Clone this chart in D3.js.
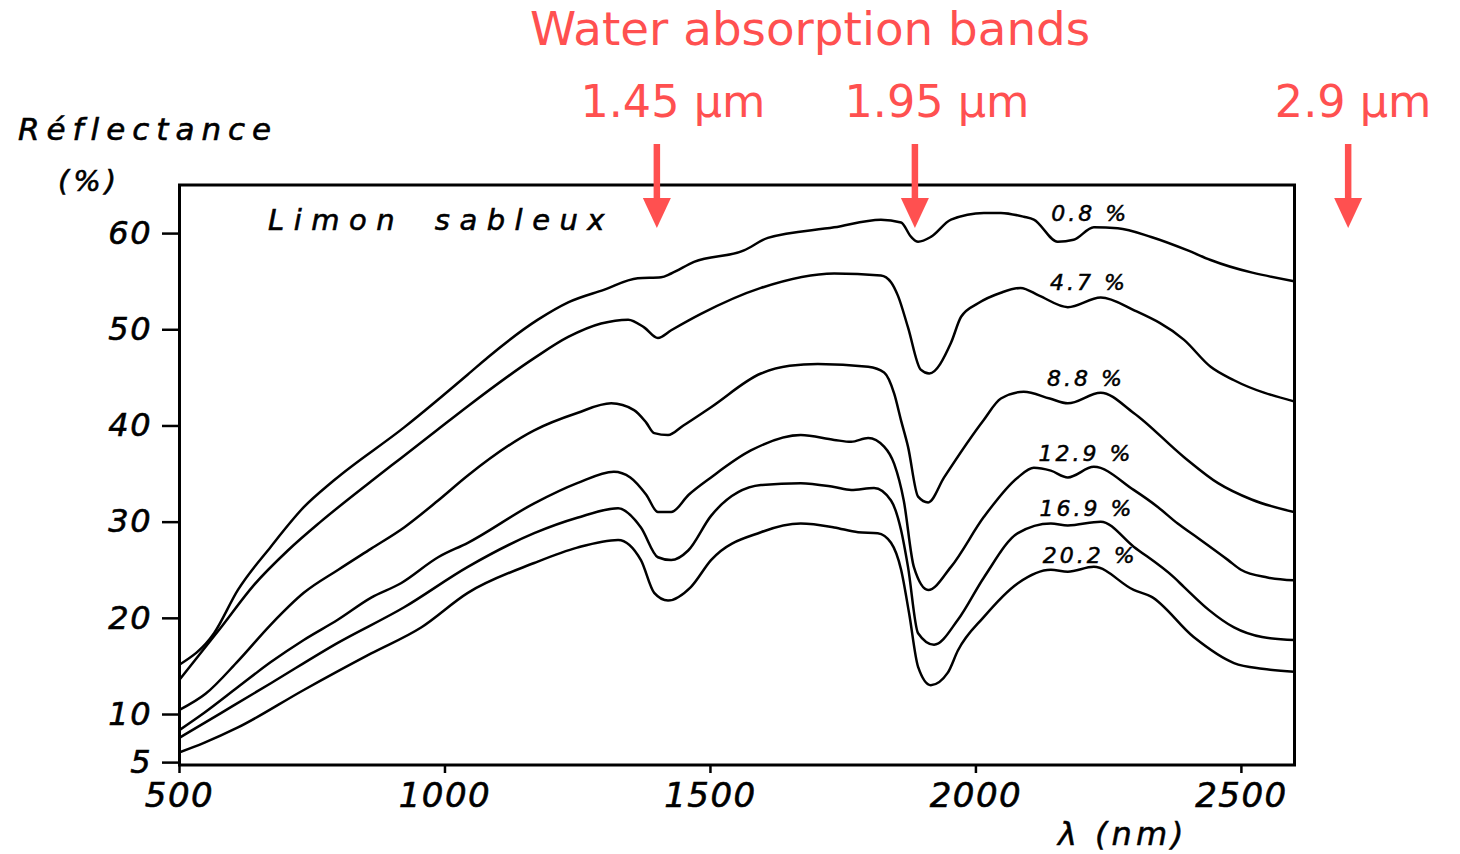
<!DOCTYPE html>
<html><head><meta charset="utf-8">
<script src="https://cdn.jsdelivr.net/npm/d3@7"></script>
<style>body{margin:0;background:#fff;} svg{display:block;}</style>
</head><body>
<svg id="c" width="1460" height="854"></svg>
<script>
// ---- data (wavelength nm, reflectance %) ----
const moistureLabels = ["0.8 %", "4.7 %", "8.8 %", "12.9 %", "16.9 %", "20.2 %"];
const s08 = [[500,15.1],[566,18.4],[611,22.9],[673,27.4],[735,31.5],[792,34.3],[924,39.8],[1044,45.3],[1082,47.1],[1176,51.0],[1233,52.8],[1300,54.1],[1364,55.3],[1408,55.4],[1427,55.8],[1470,57.0],[1564,58.2],[1609,59.5],[1734,60.6],[1822,61.4],[1860,61.1],[1879,59.6],[1892,59.1],[1916,59.6],[1954,61.4],[2016,62.1],[2048,62.1],[2091,61.7],[2110,61.4],[2155,59.1],[2185,59.3],[2223,60.6],[2268,60.5],[2331,59.6],[2400,58.2],[2443,57.2],[2600,55.0]];
const s47 = [[500,13.5],[579,19.0],[641,23.4],[705,27.0],[767,30.0],[862,34.2],[918,36.6],[988,39.6],[1044,42.0],[1169,47.0],[1233,49.2],[1295,50.6],[1346,51.0],[1376,50.2],[1402,49.1],[1427,49.9],[1483,51.6],[1596,54.3],[1734,55.8],[1822,55.6],[1841,54.9],[1854,53.5],[1873,50.2],[1897,45.8],[1913,45.4],[1954,48.6],[1973,51.3],[2005,52.7],[2048,53.8],[2085,54.3],[2120,53.5],[2174,52.3],[2236,53.3],[2298,52.0],[2393,48.9],[2443,46.1],[2487,44.7],[2600,42.5]];
const s88 = [[500,10.4],[550,12.1],[611,15.5],[673,19.3],[735,22.6],[800,25.0],[862,27.2],[924,29.4],[988,32.2],[1044,34.8],[1169,39.5],[1250,41.3],[1314,42.3],[1357,41.6],[1380,40.3],[1395,39.2],[1421,39.0],[1450,40.0],[1502,41.9],[1596,45.4],[1650,46.2],[1703,46.4],[1798,46.1],[1828,45.5],[1847,43.3],[1860,40.5],[1873,37.8],[1892,32.6],[1911,32.0],[1941,34.6],[2016,40.6],[2048,42.8],[2091,43.5],[2140,42.8],[2174,42.3],[2236,43.4],[2298,41.3],[2393,36.7],[2457,34.0],[2520,32.3],[2600,31.0]];
const s129 = [[500,8.3],[547,10.1],[611,12.8],[673,15.4],[735,17.7],[799,19.8],[862,22.1],[918,23.6],[988,26.3],[1044,27.8],[1169,31.9],[1250,34.0],[1319,35.2],[1350,34.6],[1380,32.8],[1402,31.0],[1427,31.0],[1460,32.8],[1502,34.6],[1577,37.4],[1671,39.0],[1734,38.5],[1766,38.3],[1798,38.7],[1828,37.8],[1847,36.0],[1865,32.2],[1884,25.3],[1911,22.9],[1954,25.3],[2016,30.5],[2080,34.6],[2110,35.6],[2142,35.3],[2174,34.6],[2223,35.7],[2298,33.3],[2344,31.5],[2381,29.8],[2419,28.3],[2476,26.0],[2500,25.0],[2550,24.2],[2600,23.9]];
const s169 = [[500,7.5],[579,10.1],[673,13.2],[799,17.4],[924,21.1],[1044,25.3],[1169,28.8],[1250,30.4],[1327,31.4],[1370,29.4],[1402,26.3],[1427,26.0],[1459,27.0],[1502,30.6],[1596,33.8],[1671,34.0],[1734,33.6],[1766,33.3],[1809,33.5],[1841,32.2],[1860,29.1],[1873,25.3],[1892,18.4],[1922,17.2],[1967,19.8],[2016,24.2],[2080,28.8],[2142,29.8],[2174,29.6],[2236,30.0],[2298,27.4],[2374,24.2],[2393,23.2],[2440,20.8],[2487,19.0],[2540,18.0],[2600,17.7]];
const s202 = [[500,6.0],[547,7.0],[611,8.6],[735,12.5],[862,16.3],[956,19.0],[1044,22.6],[1169,25.7],[1250,27.3],[1327,28.1],[1370,26.0],[1395,22.6],[1421,21.8],[1464,23.2],[1502,26.0],[1596,28.9],[1671,29.8],[1734,29.4],[1779,28.9],[1816,28.8],[1841,27.8],[1860,25.0],[1875,20.5],[1892,14.9],[1916,13.0],[1948,14.3],[1967,16.6],[2016,20.1],[2080,23.6],[2142,25.0],[2174,24.8],[2223,25.3],[2298,22.9],[2331,22.2],[2411,18.0],[2487,15.3],[2540,14.7],[2600,14.4]];
const seriesList = [s08, s47, s88, s129, s169, s202];
const labelPos = [[2216,61.3],[2214,54.1],[2208,44.1],[2208,36.3],[2210,30.6],[2216,25.7]];

const xTicks = [500, 1000, 1500, 2000, 2500];
const yTicks = [5, 10, 20, 30, 40, 50, 60];
const xDomain = [500, 2600];
const yDomain = [4.7, 65];

const bandArrowNm = [1400, 1886, 2702];
const bandLabels = ["1.45 µm", "1.95 µm", "2.9 µm"];
const bandLabelDx = [16, 22, 5];

// ---- drawing ----
const svg = d3.select("#c");
const x = d3.scaleLinear().domain(xDomain).range([179, 1294]);
const y = d3.scaleLinear().domain(yDomain).range([765, 185]);
const tickFont = "'DejaVu Sans', sans-serif";
const red = "#ff5050";

function ink(sel, size, ls, sw) {
  return sel.attr("font-family", tickFont).attr("font-style", "oblique")
    .attr("font-size", size).attr("letter-spacing", ls).attr("fill", "#000")
    .attr("stroke", "#000").attr("stroke-width", sw);
}

// frame
svg.append("rect")
  .attr("x", x(xDomain[0]) + 0.5).attr("y", y(yDomain[1]))
  .attr("width", x(xDomain[1]) - x(xDomain[0])).attr("height", y(yDomain[0]) - y(yDomain[1]))
  .attr("fill", "none").attr("stroke", "#000").attr("stroke-width", 3);

// y axis
const gy = svg.append("g").attr("transform", `translate(${x(xDomain[0])},0)`)
  .call(d3.axisLeft(y).tickValues(yTicks).tickSize(17).tickPadding(10).tickFormat(d3.format("d")));
gy.select(".domain").remove();
gy.selectAll(".tick line").attr("stroke", "#000").attr("stroke-width", 2.5);
ink(gy.selectAll(".tick text"), 32, 1.5, 0.6);

// x axis
const gx = svg.append("g").attr("transform", `translate(0,${y(yDomain[0])})`)
  .call(d3.axisBottom(x).tickValues(xTicks).tickSize(8).tickPadding(10).tickFormat(d3.format("d")));
gx.select(".domain").remove();
gx.selectAll(".tick line").attr("stroke", "#000").attr("stroke-width", 2.5);
ink(gx.selectAll(".tick text"), 34, 1.5, 0.6);

// axis titles
ink(svg.append("text").attr("x", 18).attr("y", 140).text("Réflectance"), 31, 7, 0.6);
ink(svg.append("text").attr("x", 58).attr("y", 191).text("(%)"), 29, 4, 0.6);
ink(svg.append("text").attr("x", 1058).attr("y", 845).text("λ (nm)"), 32, 4, 0.5);

// soil type label
ink(svg.append("text").attr("x", 268).attr("y", 230).text("Limon sableux"), 29, 9.5, 0.6)
  .attr("word-spacing", 12);

// curves
const line = d3.line().x(d => x(d[0])).y(d => y(d[1])).curve(d3.curveMonotoneX);
svg.append("g").selectAll("path").data(seriesList).join("path")
  .attr("d", line).attr("fill", "none").attr("stroke", "#000")
  .attr("stroke-width", 2.5).attr("stroke-linejoin", "round");

// series labels
ink(svg.append("g").selectAll("text").data(moistureLabels).join("text")
  .attr("x", (d, i) => x(labelPos[i][0])).attr("y", (d, i) => y(labelPos[i][1]))
  .attr("text-anchor", "middle").text(d => d), 22, 3, 0.5);

// red annotations
svg.append("text").attr("x", 530).attr("y", 45).text("Water absorption bands")
  .attr("font-family", tickFont).attr("font-size", 46.8).attr("fill", red);

const ann = svg.append("g");
bandArrowNm.forEach((nm, i) => {
  const ax = x(nm);
  ann.append("text").attr("x", ax + bandLabelDx[i]).attr("y", 117)
    .attr("text-anchor", "middle").text(bandLabels[i])
    .attr("font-family", tickFont).attr("font-size", 44.5).attr("fill", red);
  ann.append("line").attr("x1", ax).attr("x2", ax).attr("y1", 144).attr("y2", 202)
    .attr("stroke", red).attr("stroke-width", 6.5);
  ann.append("path")
    .attr("d", `M${ax - 14},${198} L${ax + 14},${198} L${ax},${228} Z`)
    .attr("fill", red);
});
</script>
</body></html>
